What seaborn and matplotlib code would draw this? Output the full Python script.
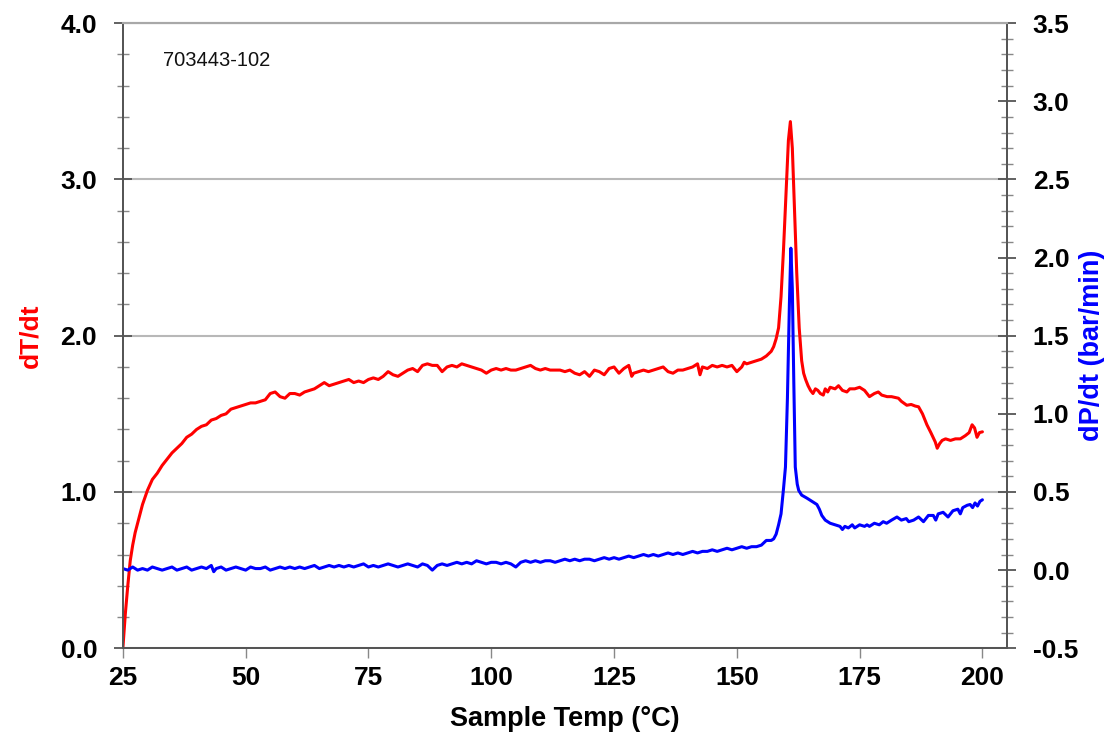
import numpy as np
import pandas as pd
import seaborn as sns
import matplotlib.pyplot as plt
from matplotlib.ticker import MultipleLocator, FormatStrFormatter

sns.set_theme(style="ticks")
plt.rcParams['font.family'] = ['Liberation Sans', 'DejaVu Sans']
plt.rcParams['font.weight'] = 'bold'
plt.rcParams['axes.unicode_minus'] = False

# %% data (sample 703443-102)
temp_dT = [
    25.0, 25.5, 26.0, 26.5, 27.0, 27.5, 28.0, 28.5, 29.0, 30.0,
    31.0, 32.0, 33.0, 34.0, 35.0, 36.0, 37.0, 38.0, 39.0, 40.0,
    41.0, 42.0, 43.0, 44.0, 45.0, 46.0, 47.0, 48.0, 49.0, 50.0,
    51.0, 52.0, 53.0, 54.0, 55.0, 56.0, 57.0, 58.0, 59.0, 60.0,
    61.0, 62.0, 63.0, 64.0, 65.0, 66.0, 67.0, 68.0, 69.0, 70.0,
    71.0, 72.0, 73.0, 74.0, 75.0, 76.0, 77.0, 78.0, 79.0, 80.0,
    81.0, 82.0, 83.0, 84.0, 85.0, 86.0, 87.0, 88.0, 89.0, 90.0,
    91.0, 92.0, 93.0, 94.0, 95.0, 96.0, 97.0, 98.0, 99.0, 100.0,
    101.0, 102.0, 103.0, 104.0, 105.0, 106.0, 107.0, 108.0, 109.0, 110.0,
    111.0, 112.0, 113.0, 114.0, 115.0, 116.0, 117.0, 118.0, 119.0, 120.0,
    121.0, 122.0, 123.0, 124.0, 125.0, 126.0, 127.0, 128.0, 128.6, 129.0,
    130.0, 131.0, 132.0, 133.0, 134.0, 135.0, 136.0, 137.0, 138.0, 139.0,
    140.0, 141.0, 142.0, 142.5, 143.0, 144.0, 145.0, 146.0, 147.0, 148.0,
    149.0, 150.0, 151.0, 151.5, 152.0, 153.0, 154.0, 155.0, 156.0, 157.0,
    157.5, 158.0, 158.5, 159.0, 159.5, 160.0, 160.5, 160.9, 161.3, 161.7,
    162.2, 162.7, 163.2, 163.6, 164.0, 164.5, 165.0, 165.5, 166.0, 166.5,
    167.0, 167.6, 168.0, 168.5, 169.0, 170.0, 170.7, 171.5, 172.4, 173.0,
    174.0, 175.0, 176.0, 177.0, 178.0, 178.8, 179.5, 180.6, 181.5, 182.9,
    183.5, 184.6, 185.5, 186.3, 187.0, 187.8, 188.7, 189.5, 190.4, 190.8,
    191.3, 191.8, 192.5, 193.5, 194.5, 195.5, 196.5, 197.3, 197.9, 198.4,
    198.9, 199.4, 200.0,
]
dT_dt = [
    0.00, 0.22, 0.40, 0.56, 0.66, 0.74, 0.80, 0.86, 0.92, 1.01,
    1.08, 1.12, 1.17, 1.21, 1.25, 1.28, 1.31, 1.35, 1.37, 1.40,
    1.42, 1.43, 1.46, 1.47, 1.49, 1.50, 1.53, 1.54, 1.55, 1.56,
    1.57, 1.57, 1.58, 1.59, 1.63, 1.64, 1.61, 1.60, 1.63, 1.63,
    1.62, 1.64, 1.65, 1.66, 1.68, 1.70, 1.68, 1.69, 1.70, 1.71,
    1.72, 1.70, 1.71, 1.70, 1.72, 1.73, 1.72, 1.74, 1.77, 1.75,
    1.74, 1.76, 1.78, 1.79, 1.77, 1.81, 1.82, 1.81, 1.81, 1.77,
    1.80, 1.81, 1.80, 1.82, 1.81, 1.80, 1.79, 1.78, 1.76, 1.78,
    1.79, 1.78, 1.79, 1.78, 1.78, 1.79, 1.80, 1.81, 1.79, 1.78,
    1.79, 1.78, 1.78, 1.78, 1.77, 1.78, 1.76, 1.75, 1.77, 1.74,
    1.78, 1.77, 1.75, 1.79, 1.80, 1.76, 1.79, 1.81, 1.74, 1.76,
    1.77, 1.78, 1.77, 1.78, 1.79, 1.80, 1.77, 1.76, 1.78, 1.78,
    1.79, 1.80, 1.82, 1.75, 1.80, 1.79, 1.81, 1.80, 1.81, 1.80,
    1.81, 1.77, 1.80, 1.83, 1.82, 1.83, 1.84, 1.85, 1.87, 1.90,
    1.93, 1.98, 2.05, 2.25, 2.55, 2.90, 3.25, 3.37, 3.20, 2.85,
    2.40, 2.05, 1.84, 1.76, 1.72, 1.68, 1.65, 1.63, 1.66, 1.65,
    1.63, 1.62, 1.66, 1.64, 1.67, 1.66, 1.68, 1.65, 1.64, 1.66,
    1.66, 1.67, 1.65, 1.61, 1.63, 1.64, 1.62, 1.61, 1.61, 1.60,
    1.58, 1.555, 1.56, 1.55, 1.545, 1.50, 1.43, 1.38, 1.32, 1.28,
    1.31, 1.33, 1.34, 1.33, 1.34, 1.34, 1.36, 1.38, 1.43, 1.41,
    1.35, 1.38, 1.385,
]

temp_dP = [
    25, 26, 27, 28, 29, 30, 31, 32, 33, 34,
    35, 36, 37, 38, 39, 40, 41, 42, 43, 43.5,
    44, 45, 46, 47, 48, 49, 50, 51, 52, 53,
    54, 55, 56, 57, 58, 59, 60, 61, 62, 63,
    64, 65, 66, 67, 68, 69, 70, 71, 72, 73,
    74, 75, 76, 77, 78, 79, 80, 81, 82, 83,
    84, 85, 86, 87, 88, 89, 90, 91, 92, 93,
    94, 95, 96, 97, 98, 99, 100, 101, 102, 103,
    104, 105, 106, 107, 108, 109, 110, 111, 112, 113,
    114, 115, 116, 117, 118, 119, 120, 121, 122, 123,
    124, 125, 126, 127, 128, 129, 130, 131, 132, 133,
    134, 135, 136, 137, 138, 139, 140, 141, 142, 143,
    144, 145, 146, 147, 148, 149, 150, 151, 152, 153,
    154, 155, 156, 157, 157.5, 158, 158.5, 159, 159.5, 159.9,
    160.3, 160.7, 161.0, 161.3, 161.6, 161.9, 162.3, 162.6, 163.2, 164.3,
    165.3, 166.3, 166.8, 167.3, 168.0, 169.0, 170.0, 171.0, 171.5, 172.0,
    172.7, 173.5, 174.0, 175.0, 176.0, 176.5, 177.0, 178.0, 179.0, 179.8,
    180.5, 181.5, 182.6, 183.5, 184.5, 185.0, 186.0, 187.0, 188.0, 189.0,
    190.0, 190.5, 191.0, 192.0, 193.0, 194.0, 195.0, 195.5, 196.0, 196.9,
    197.5, 198.0, 198.5, 199.0, 199.5, 200.0,
]
dP_dt = [
    0.01, 0.00, 0.02, 0.00, 0.01, 0.00, 0.02, 0.01, 0.00, 0.01,
    0.02, 0.00, 0.01, 0.02, 0.00, 0.01, 0.02, 0.01, 0.03, -0.01,
    0.01, 0.02, 0.00, 0.01, 0.02, 0.01, 0.00, 0.02, 0.01, 0.01,
    0.02, 0.00, 0.01, 0.02, 0.01, 0.02, 0.01, 0.02, 0.01, 0.02,
    0.03, 0.01, 0.02, 0.03, 0.02, 0.03, 0.02, 0.03, 0.02, 0.03,
    0.04, 0.02, 0.03, 0.02, 0.03, 0.04, 0.03, 0.02, 0.03, 0.04,
    0.03, 0.02, 0.04, 0.03, 0.00, 0.03, 0.04, 0.03, 0.04, 0.05,
    0.04, 0.05, 0.04, 0.06, 0.05, 0.04, 0.05, 0.05, 0.04, 0.05,
    0.04, 0.02, 0.05, 0.06, 0.05, 0.06, 0.05, 0.06, 0.06, 0.05,
    0.06, 0.07, 0.06, 0.07, 0.06, 0.07, 0.07, 0.06, 0.07, 0.08,
    0.07, 0.08, 0.07, 0.08, 0.09, 0.08, 0.09, 0.10, 0.09, 0.10,
    0.09, 0.10, 0.11, 0.10, 0.11, 0.10, 0.11, 0.12, 0.11, 0.12,
    0.12, 0.13, 0.12, 0.13, 0.14, 0.13, 0.14, 0.15, 0.14, 0.15,
    0.15, 0.16, 0.19, 0.19, 0.20, 0.23, 0.29, 0.36, 0.52, 0.66,
    1.10, 1.70, 2.06, 1.80, 1.20, 0.66, 0.55, 0.51, 0.48, 0.46,
    0.44, 0.42, 0.39, 0.35, 0.32, 0.30, 0.29, 0.28, 0.26, 0.28,
    0.27, 0.29, 0.27, 0.29, 0.28, 0.29, 0.28, 0.30, 0.29, 0.31,
    0.30, 0.32, 0.34, 0.32, 0.33, 0.31, 0.32, 0.34, 0.31, 0.35,
    0.35, 0.32, 0.36, 0.37, 0.34, 0.38, 0.39, 0.36, 0.40, 0.415,
    0.42, 0.40, 0.43, 0.41, 0.44, 0.45,
]

x_ticks = [25, 50, 75, 100, 125, 150, 175, 200]

# %% plot
fig = plt.figure(figsize=(11.17, 7.46), dpi=100)
ax = fig.add_axes([0.110, 0.131, 0.7915, 0.838])
ax2 = ax.twinx()

sns.lineplot(x=temp_dT, y=dT_dt, ax=ax, color="#ff0000", lw=2.2,
             sort=False, estimator=None)
sns.lineplot(x=temp_dP, y=dP_dt, ax=ax2, color="#0000ff", lw=2.2,
             sort=False, estimator=None)

ax.set_xlim(25, 205)
ax.set_ylim(0, 4.0)
ax2.set_ylim(-0.5, 3.5)
ax.set_xticks(x_ticks)

ax.yaxis.set_major_locator(MultipleLocator(1.0))
ax.yaxis.set_minor_locator(MultipleLocator(0.2))
ax.yaxis.set_major_formatter(FormatStrFormatter('%.1f'))
ax2.yaxis.set_major_locator(MultipleLocator(0.5))
ax2.yaxis.set_minor_locator(MultipleLocator(0.1))
ax2.yaxis.set_major_formatter(FormatStrFormatter('%.1f'))

ax.yaxis.grid(True, which='major', color='#b8b8b8', lw=1.5)
ax.set_axisbelow(True)

spine_col = '#555555'
for a in (ax, ax2):
    for s in ('left', 'right', 'bottom'):
        a.spines[s].set_color(spine_col)
        a.spines[s].set_linewidth(1.3)
    a.spines['top'].set_color('#a8a8a8')
    a.spines['top'].set_linewidth(1.5)

ax.tick_params(axis='y', which='major', direction='inout', length=13, width=1.3,
               color=spine_col, labelsize=19, labelcolor='black', pad=12)
ax.tick_params(axis='y', which='minor', direction='inout', length=8, width=1,
               color='#888888')
ax2.tick_params(axis='y', which='major', direction='inout', length=13, width=1.3,
                color=spine_col, labelsize=19, labelcolor='black', pad=12)
ax2.tick_params(axis='y', which='minor', direction='inout', length=8, width=1,
                color='#888888')
ax.tick_params(axis='x', which='major', direction='out', length=7, width=1,
               color='#888888', labelsize=19, labelcolor='black', pad=6)

ax.set_xlabel("Sample Temp (°C)", fontsize=19.5, fontweight='bold',
              color='black', labelpad=11)
ax.set_ylabel("")
ax2.set_ylabel("")
fig.text(30 / 1117, 1 - 336 / 746, "dT/dt", color="#ff0000", fontsize=19,
         fontweight='bold', rotation=90, ha='center', va='center')
fig.text(1092 / 1117, 1 - 345 / 746, "dP/dt (bar/min)", color="#0000ff",
         fontsize=19.5, fontweight='bold', rotation=90, ha='center', va='center')

ax.text(0.045, 0.941, "703443-102", transform=ax.transAxes, fontsize=14.5,
        fontweight='normal', color='#111111', ha='left', va='center')

fig.savefig("out.png", dpi=100)
